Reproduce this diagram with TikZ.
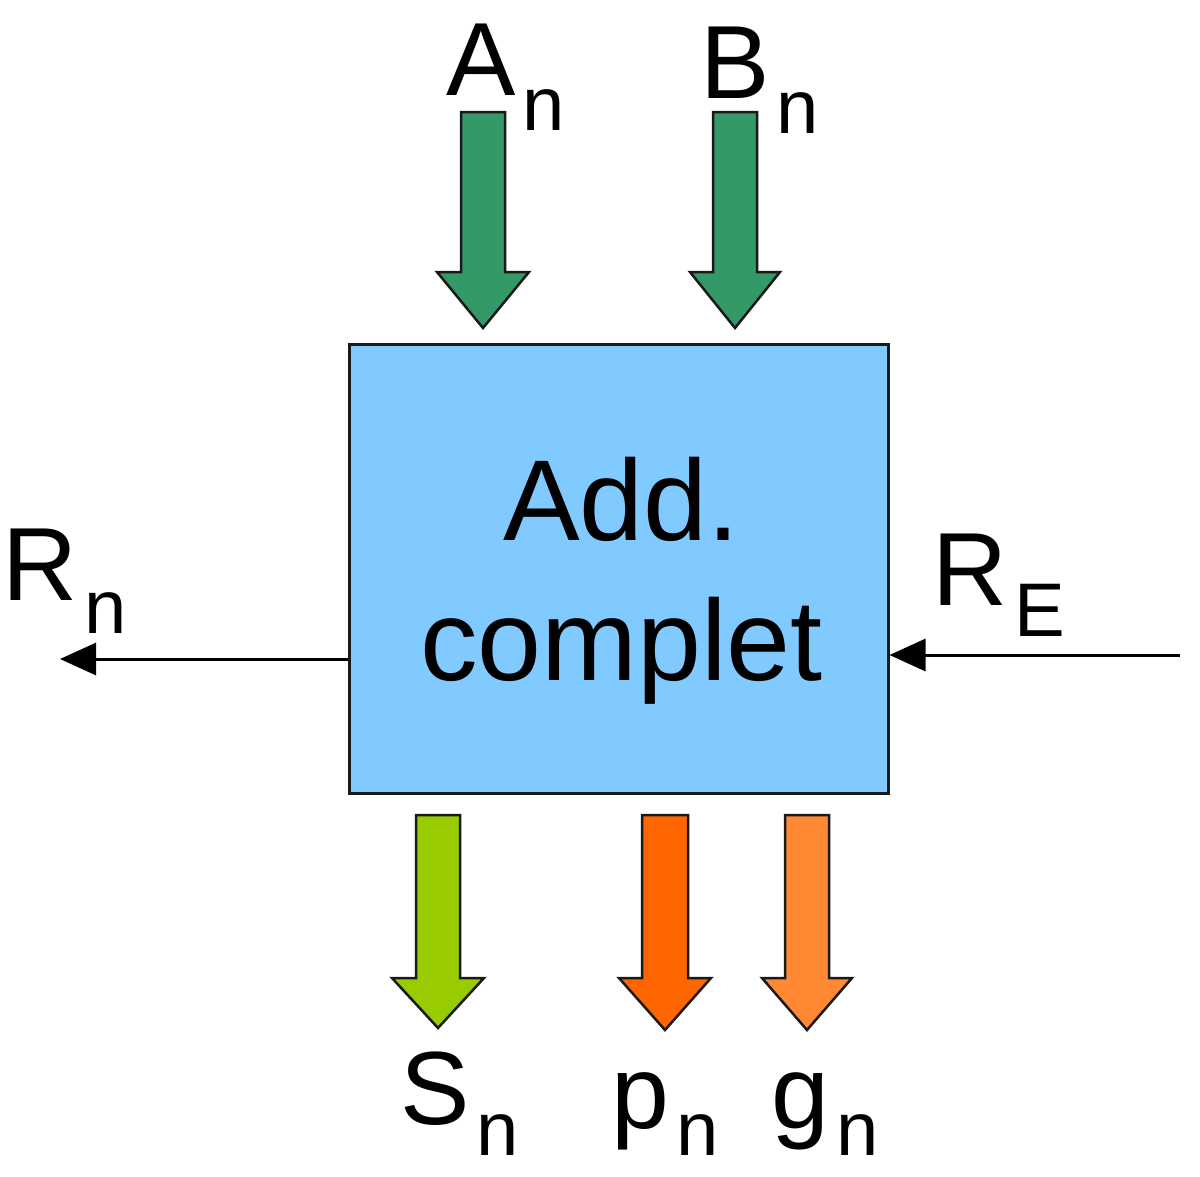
\documentclass[tikz,border=0pt]{standalone}
\usepackage{fontspec}
\setmainfont{Liberation Sans}
\usetikzlibrary{arrows.meta}

\definecolor{boxblue}{RGB}{128,202,255}
\definecolor{ingreen}{RGB}{51,153,102}
\definecolor{sumgreen}{RGB}{153,204,0}
\definecolor{porange}{RGB}{255,102,0}
\definecolor{gorange}{RGB}{255,136,51}
\definecolor{edge}{RGB}{25,25,25}

% label with a lowered subscript: main text, subscript, drop
\newcommand\sublabel[3]{#1\kern7pt\raisebox{-#3pt}{\fontsize{76}{76}\selectfont #2}}

% vertical block arrow: centre x, top y, head base y, tip y, shaft half width, head half width, colour
\newcommand\blockarrow[7]{%
  \filldraw[blockedge, fill=#7]
    (#1-#5,#2) -- (#1+#5,#2) -- (#1+#5,#3) -- (#1+#6,#3) -- (#1,#4)
    -- (#1-#6,#3) -- (#1-#5,#3) -- cycle;}

\begin{document}
\begin{tikzpicture}[x=1pt, y=-1pt,
  blockedge/.style={draw=edge, line width=2.5pt, line join=miter},
  labeltext/.style={anchor=base west, inner sep=0pt, font=\fontsize{104}{104}\selectfont},
  wire/.style={draw=black, line width=3pt, -{Triangle[length=36pt, width=32pt]}}]

  \useasboundingbox (0,0) rectangle (1200,1176);

  % the full adder block
  \node[draw=edge, line width=3pt, fill=boxblue, minimum width=539pt,
        minimum height=449pt, inner sep=0pt] (adder) at (618.5,568.5) {};
  \node[align=center, inner sep=0pt, font=\fontsize{115}{140}\selectfont]
       (addertext) at (adder.center) [xshift=3pt, yshift=-12pt] {Add.\\complet};

  % operand inputs
  \node[labeltext] (an) at (446,95) {\sublabel{A}{n}{35}};
  \node[labeltext] (bn) at (700,98) {\sublabel{B}{n}{35}};
  \blockarrow{483}{112}{272}{328}{22}{46}{ingreen}
  \blockarrow{735}{112}{272}{328}{22}{45}{ingreen}

  % outputs below the block
  \blockarrow{438}{815}{978}{1028}{22}{46}{sumgreen}
  \blockarrow{665}{815}{978}{1030}{23}{46}{porange}
  \blockarrow{807}{815}{978}{1030}{22}{45}{gorange}
  \node[labeltext] (sn) at (400,1124) {\sublabel{S}{n}{31}};
  \node[labeltext] (pn) at (611,1128) {\sublabel{p}{n}{27}};
  \node[labeltext] (gn) at (771,1128) {\sublabel{g}{n}{27}};

  % carry out and carry in
  \coordinate (carryout) at (60,659);
  \coordinate (carryin) at (1180,655);
  \draw[wire] (adder.west |- carryout) -- (carryout);
  \draw[wire] (carryin) -- (adder.east |- carryin);
  \node[labeltext] (rn) at (2,600) {\sublabel{R}{n}{33}};
  \node[labeltext] (re) at (932,605) {\sublabel{R}{E}{31}};
\end{tikzpicture}
\end{document}
